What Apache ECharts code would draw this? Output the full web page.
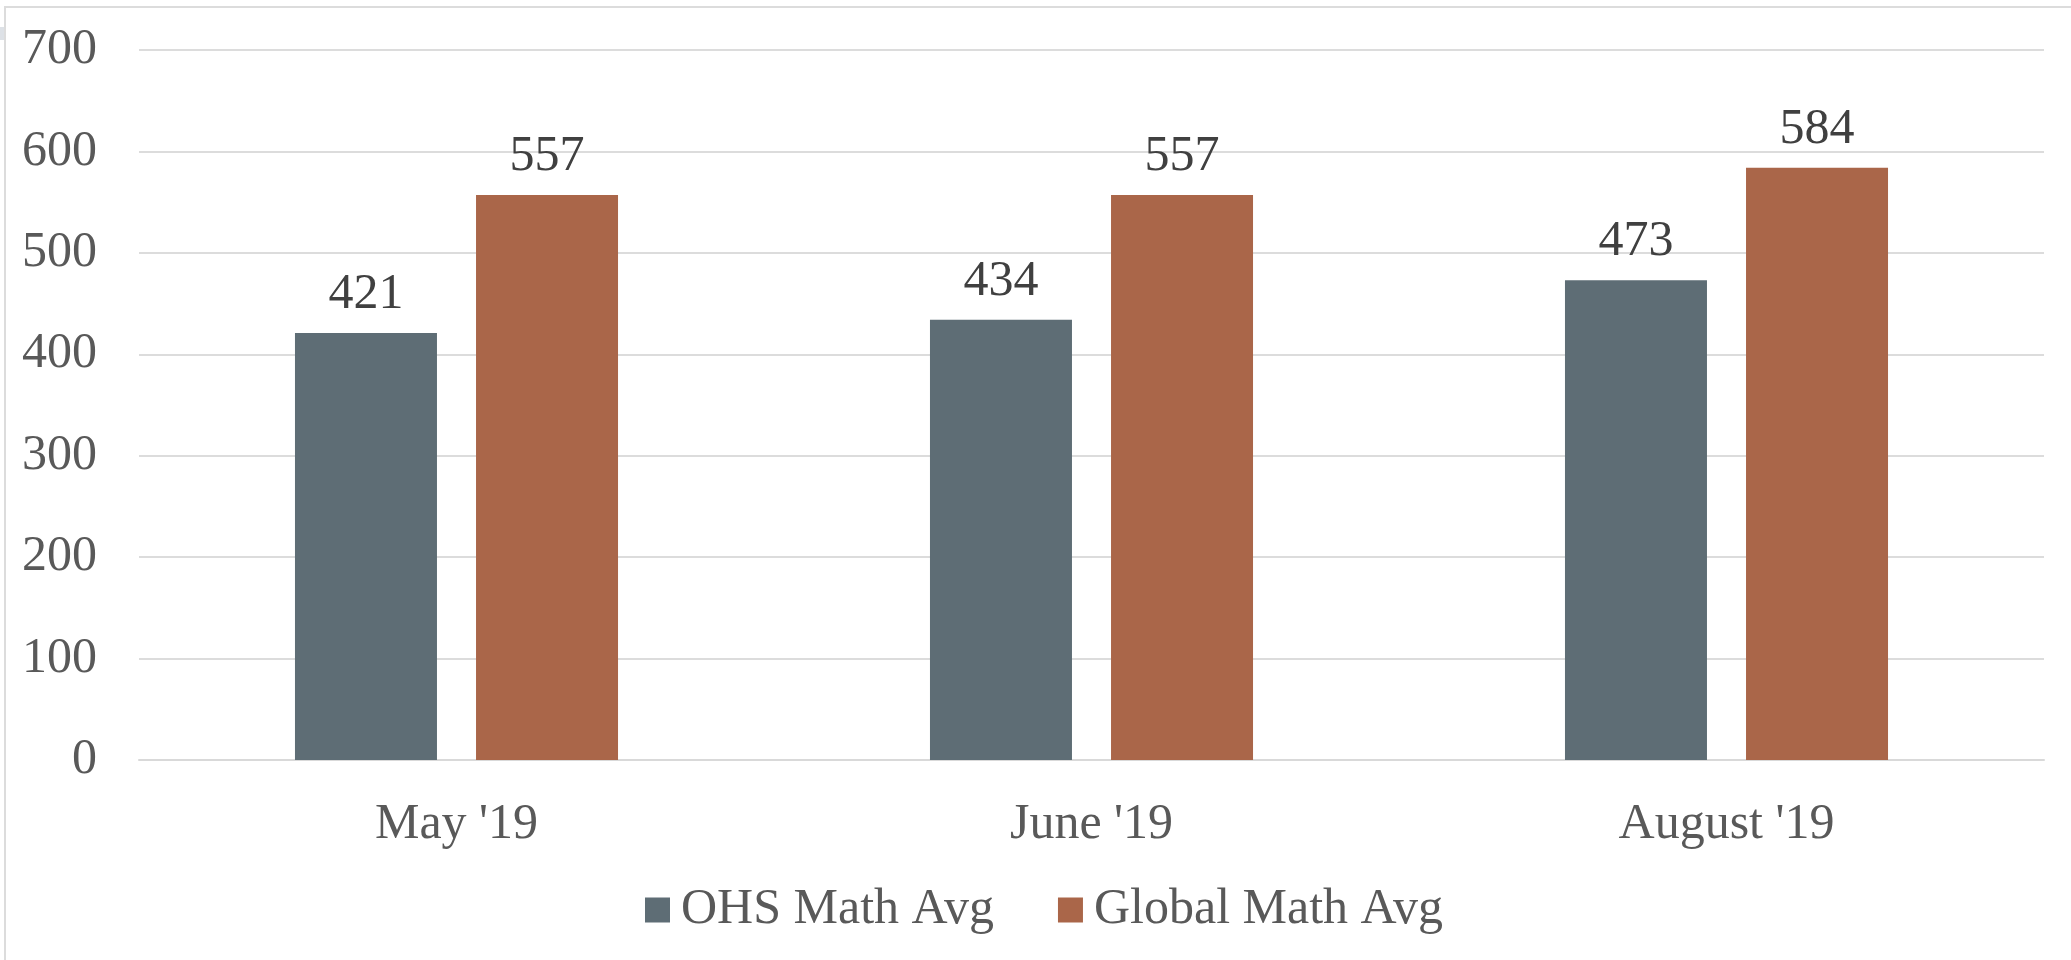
<!DOCTYPE html>
<html>
<head>
<meta charset="utf-8">
<script src="https://cdn.jsdelivr.net/npm/echarts@6/dist/echarts.min.js"></script>
<style>
  html, body { margin: 0; padding: 0; background: #fff; }
  #chart { width: 2071px; height: 960px; }
</style>
</head>
<body>
<div id="chart"></div>
<script>
// data
var categories = ["May '19", "June '19", "August '19"];
var ohsAvg = [421, 434, 473];
var globalAvg = [557, 557, 584];
var seriesNames = ["OHS Math Avg", "Global Math Avg"];

var font = "'Liberation Serif', 'Times New Roman', serif";

var myChart = echarts.init(document.getElementById("chart"));

var labelStyle = {
  show: true,
  position: "top",
  distance: 13,
  color: "#404040",
  fontFamily: font,
  fontSize: 50
};

var option = {
  backgroundColor: "#fff",
  animation: false,
  graphic: [
    {
      type: "rect",
      shape: { x: 5, y: 7, width: 2200, height: 1100 },
      style: { fill: "none", stroke: "#dcdcdc", lineWidth: 2 }
    },
    {
      type: "rect",
      shape: { x: 0, y: 27, width: 4, height: 13 },
      style: { fill: "#dde1e6" }
    }
  ],
  grid: { left: 139, right: 27, top: 50, bottom: 200 },
  legend: {
    data: seriesNames,
    left: 640,
    top: 880,
    icon: "rect",
    itemWidth: 25,
    itemHeight: 25,
    itemGap: 64,
    textStyle: {
      color: "#595959",
      fontFamily: font,
      fontSize: 50,
      padding: [0, 0, 0, 6]
    }
  },
  xAxis: {
    type: "category",
    data: categories,
    axisLine: { show: true, lineStyle: { color: "#d9d9d9", width: 2 } },
    axisTick: { show: false },
    axisLabel: {
      color: "#595959",
      fontFamily: font,
      fontSize: 50,
      margin: 40
    }
  },
  yAxis: {
    type: "value",
    min: 0,
    max: 700,
    interval: 100,
    axisLine: { show: false },
    axisTick: { show: false },
    splitLine: { lineStyle: { color: "#dcdcdc", width: 2 } },
    axisLabel: {
      color: "#595959",
      fontFamily: font,
      fontSize: 50,
      margin: 42,
      padding: [7, 0, 0, 0]
    }
  },
  series: [
    {
      name: seriesNames[0],
      type: "bar",
      data: ohsAvg,
      barWidth: 142,
      barGap: "27.5%",
      itemStyle: { color: "#5e6d75" },
      label: labelStyle
    },
    {
      name: seriesNames[1],
      type: "bar",
      data: globalAvg,
      barWidth: 142,
      barGap: "27.5%",
      itemStyle: { color: "#aa6649" },
      label: labelStyle
    }
  ]
};

myChart.setOption(option);
window.onresize = function () {
  myChart.resize();
};
</script>
</body>
</html>
